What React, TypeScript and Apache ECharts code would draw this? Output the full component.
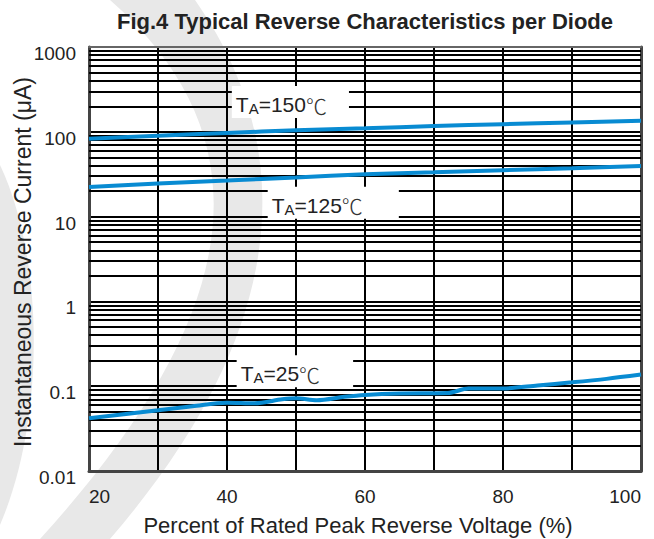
import React, { useEffect, useRef } from "react";
import * as echarts from "echarts";

// ---- data ----
const percent = [20, 30, 40, 50, 60, 70, 80, 90, 100];
const current150 = [83, 90, 97, 104, 110, 117, 123, 129, 135];
const current125 = [22.4, 24.5, 26.6, 29.0, 31.6, 33.4, 35.3, 37.2, 39.6];
const percent25 = [20, 30, 35, 40, 44, 48, 50, 53, 57, 60, 65, 72, 75, 80, 85, 90, 95, 100];
const current25 = [0.042, 0.052, 0.058, 0.064, 0.063, 0.07, 0.072, 0.0685, 0.075, 0.079, 0.082, 0.083, 0.094, 0.094, 0.102, 0.111, 0.122, 0.137];

const xLabeled = [20, 40, 60, 80, 100];
const yTickLabels = ["0.01", "0.1", "1", "10", "100", "1000"];
const minorGrid = [
  0.02, 0.03, 0.04, 0.05, 0.06, 0.07, 0.08, 0.09,
  0.2, 0.3, 0.4, 0.5, 0.6, 0.7, 0.8, 0.9,
  2, 3, 4, 5, 6, 7, 8, 9,
  20, 30, 40, 50, 60, 70, 80, 90,
  200, 300, 400, 500, 600, 700, 800, 900,
];

// annotation boxes: temperature, x / y of the box's left edge & vertical centre
const labelTemps = ["150", "125", "25"];
const labelX = [40.7, 45.9, 41.4];
const labelY = [224, 14.6, 0.15];
const labelRightPad = [22, 36, 33];

const FONT = "Arial, Helvetica, sans-serif";
const CJK = "Noto Sans CJK SC";
const BLUE = "#088bd2";
const WM = "#e8e8e8";

echarts.graphic.registerShape(
  "wmA",
  echarts.graphic.extendPath("M195 0 C300 150 290 330 110 539 L40 539 C230 330 280 150 110 0 Z", {})
);
echarts.graphic.registerShape(
  "wmB",
  echarts.graphic.extendPath("M0 165 C45 260 45 420 0 525 Z", {})
);

function makeLabel(i: number) {
  return {
    coord: [labelX[i], labelY[i]],
    symbol: "rect",
    symbolSize: 0,
    label: {
      show: true,
      position: "inside",
      align: "left",
      verticalAlign: "middle",
      backgroundColor: "#fff",
      padding: [8, labelRightPad[i], 2, 4],
      formatter: "{t|T}{s|A}{t|=" + labelTemps[i] + "}{c|℃}",
      rich: {
        t: { fontSize: 21, fontFamily: FONT, color: "#222", lineHeight: 22, verticalAlign: "top" },
        c: { fontSize: 21, fontFamily: CJK, fontWeight: 300, color: "#333", lineHeight: 22, verticalAlign: "top" },
        s: { fontSize: 15, fontFamily: FONT, color: "#222", lineHeight: 15, padding: [13, 0, 0, 0], verticalAlign: "bottom" },
      },
    },
  };
}

export default function App() {
  const ref = useRef<HTMLDivElement>(null);
  useEffect(() => {
    if (!ref.current) return;
    const chart = echarts.init(ref.current, undefined, { renderer: "svg" });
    const curve = (name: string, xs: number[], ys: number[], li: number) => ({
      name,
      type: "line",
      smooth: 0.3,
      symbol: "none",
      z: 5,
      lineStyle: { color: BLUE, width: 4 },
      data: xs.map((x, k) => [x, ys[k]]),
      markPoint: { silent: true, data: [makeLabel(li)] },
    });
    const frameOnly = {
      axisTick: { show: false },
      axisLabel: { show: false },
      splitLine: { show: false },
      splitArea: { show: false },
    };
    chart.setOption({
      animation: false,
      backgroundColor: "#fff",
      graphic: [
        { type: "wmA", x: 0, y: 0, z: 1, silent: true, style: { fill: WM } },
        { type: "wmB", x: 0, y: 0, z: 1, silent: true, style: { fill: WM } },
        {
          type: "text",
          x: 365,
          y: 10,
          z: 10,
          style: {
            text: "Fig.4 Typical Reverse Characteristics per Diode",
            fontSize: 22,
            fontWeight: "bold",
            fontFamily: FONT,
            fill: "#222",
            textAlign: "center",
          },
        },
      ],
      grid: { left: 89, right: 13, top: 47, bottom: 68, show: false, outerBoundsMode: "none", containLabel: false },
      xAxis: [
        {
          type: "value",
          z: 3,
          min: 20,
          max: 100,
          interval: 10,
          name: "Percent of Rated Peak Reverse Voltage (%)",
          nameLocation: "middle",
          nameGap: 43,
          nameMoveOverlap: false,
          nameTextStyle: { fontSize: 22, fontFamily: FONT, color: "#222", padding: [0, 14, 0, 0] },
          axisLine: { show: true, lineStyle: { color: "#444", width: 3 } },
          axisTick: { show: false },
          axisLabel: {
            fontSize: 19,
            fontFamily: FONT,
            color: "#222",
            margin: 16,
            alignMinLabel: "left",
            alignMaxLabel: "right",
            formatter: (v: number) => (xLabeled.indexOf(v) >= 0 ? String(v) : ""),
          },
          splitLine: { show: true, lineStyle: { color: "#000", width: 2 } },
          splitArea: { show: false },
        },
        {
          type: "value",
          z: 3,
          position: "top",
          min: 20,
          max: 100,
          interval: 10,
          axisLine: { show: true, onZero: false, lineStyle: { color: "#666", width: 2 } },
          ...frameOnly,
        },
      ],
      yAxis: [
        {
          type: "log",
          z: 3,
          logBase: 10,
          min: 0.01,
          max: 1000,
          name: "Instantaneous Reverse Current (μA)",
          nameLocation: "middle",
          nameGap: 55,
          nameMoveOverlap: false,
          nameTextStyle: { fontSize: 23, fontFamily: FONT, color: "#222", padding: [0, 6, 0, 0] },
          axisLine: { show: true, lineStyle: { color: "#444", width: 3 } },
          axisTick: { show: false },
          axisLabel: {
            fontSize: 19,
            fontFamily: FONT,
            color: "#222",
            margin: 13,
            verticalAlign: "top",
            lineHeight: 13,
            formatter: (v: number) => {
              const k = Math.round(Math.log10(v)) + 2;
              return yTickLabels[k] ?? "";
            },
          },
          splitLine: { show: true, lineStyle: { color: "#000", width: 2 } },
          splitArea: { show: false },
        },
        {
          type: "log",
          z: 3,
          logBase: 10,
          position: "right",
          min: 0.01,
          max: 1000,
          axisLine: { show: true, onZero: false, lineStyle: { color: "#444", width: 3 } },
          ...frameOnly,
        },
      ],
      series: [
        {
          name: "minor grid",
          type: "line",
          data: [],
          z: 3,
          silent: true,
          markLine: {
            silent: true,
            symbol: ["none", "none"],
            label: { show: false },
            lineStyle: { color: "#000", width: 2, type: "solid" },
            emphasis: { disabled: true },
            data: minorGrid.map((v) => ({ yAxis: v })),
          },
        },
        curve("TA=150℃", percent, current150, 0),
        curve("TA=125℃", percent, current125, 1),
        curve("TA=25℃", percent25, current25, 2),
      ],
    });
    return () => chart.dispose();
  }, []);
  return <div ref={ref} style={{ position: "fixed", left: 0, top: 0, width: 654, height: 539 }} />;
}
